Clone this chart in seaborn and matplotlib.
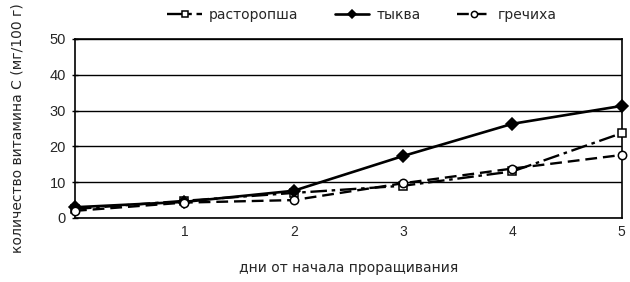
import matplotlib
matplotlib.use("Agg")
import matplotlib.pyplot as plt
import seaborn as sns
import pandas as pd

days = [0, 1, 2, 3, 4, 5]
rastoropsha = [2.5, 4.8, 7.0, 9.0, 13.0, 23.7]
tykva = [3.0, 4.5, 7.6, 17.3, 26.3, 31.3]
grechiha = [2.0, 4.3, 5.0, 9.7, 13.8, 17.6]
series_names = ["расторопша", "тыква", "гречиха"]
x_ticks = [1, 2, 3, 4, 5]
y_ticks = [0, 10, 20, 30, 40, 50]

sns.set_theme(style="white")
plt.rcParams['font.family'] = ['DejaVu Sans']

df = pd.DataFrame({
    "day": days * 3,
    "value": rastoropsha + tykva + grechiha,
    "series": [series_names[0]] * 6 + [series_names[1]] * 6 + [series_names[2]] * 6,
})

fig = plt.figure(figsize=(6.3, 2.82), dpi=100)
ax = fig.add_axes([0.119, 0.227, 0.868, 0.635])

styles = {
    "расторопша": dict(dashes=(7, 2, 1.5, 2), marker="s", mfc="white", lw=1.7, ms=6),
    "тыква": dict(dashes=None, marker="D", mfc="black", lw=1.9, ms=6),
    "гречиха": dict(dashes=(5, 2.5), marker="o", mfc="white", lw=1.7, ms=6),
}
for name in series_names:
    st = styles[name]
    sub = df[df["series"] == name]
    sns.lineplot(data=sub, x="day", y="value", color="black", marker=st["marker"],
                 markerfacecolor=st["mfc"], markeredgecolor="black",
                 markeredgewidth=1.1, markersize=st["ms"], linewidth=st["lw"],
                 label=name, ax=ax, clip_on=False, zorder=3, legend=False)
    l = ax.get_lines()[-1]
    if st["dashes"] is not None:
        l.set_dashes(st["dashes"])

if ax.get_legend() is not None:
    ax.get_legend().remove()

ax.set_xlim(0, 5)
ax.set_ylim(0, 50)
ax.set_xticks(x_ticks)
ax.set_yticks(y_ticks)
ax.set_xticklabels([str(t) for t in x_ticks], fontsize=10, family="Liberation Sans")
ax.set_yticklabels([str(t) for t in y_ticks], fontsize=10.5, family="Liberation Sans")
ax.yaxis.grid(True, color="black", linewidth=1)
ax.xaxis.grid(False)
for s in ax.spines.values():
    s.set_color("black")
    s.set_linewidth(1.2)
ax.tick_params(axis="y", direction="inout", length=5, width=1, color="black", pad=4, left=True)
ax.tick_params(axis="x", length=0, pad=5)
ax.set_xlabel("дни от начала проращивания", fontsize=10, labelpad=16)
ax.set_ylabel("количество витамина С (мг/100 г)", fontsize=10, labelpad=18)

handles = ax.get_lines()[:3]
fig.legend(handles, series_names, loc="center", bbox_to_anchor=(0.575, 0.948), ncol=3,
           frameon=False, fontsize=10, handlelength=2.5, columnspacing=2.6,
           handletextpad=0.5, markerscale=0.75)

fig.savefig("out.png", dpi=100)
